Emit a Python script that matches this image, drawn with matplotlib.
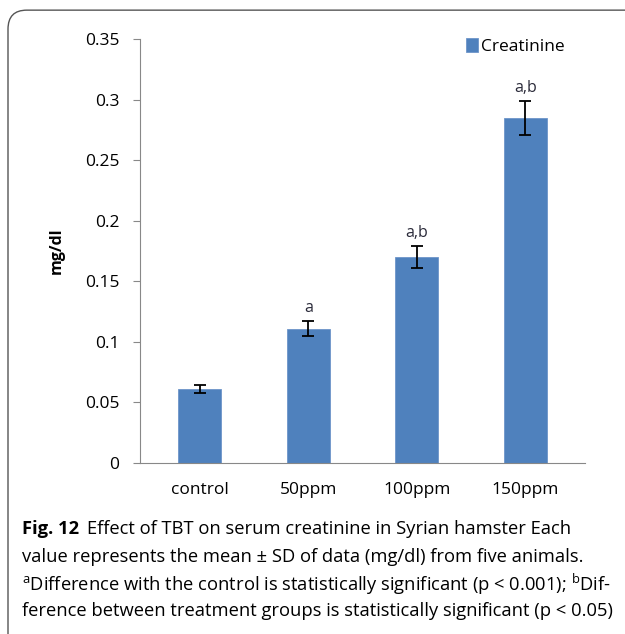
import numpy as np
import matplotlib
matplotlib.use("Agg")
import matplotlib.pyplot as plt
from matplotlib.patches import FancyBboxPatch

# data
groups = ["control", "50ppm", "100ppm", "150ppm"]
creatinine = [0.061, 0.111, 0.170, 0.285]
sd = [0.003, 0.006, 0.009, 0.014]
marks = ["", "a", "a,b", "a,b"]
yticks = [0, 0.05, 0.1, 0.15, 0.2, 0.25, 0.3, 0.35]
ytick_labels = ["0", "0.05", "0.1", "0.15", "0.2", "0.25", "0.3", "0.35"]

bar_color = "#4f81bd"
font = "Open Sans"
plt.rcParams["mathtext.fontset"] = "custom"
plt.rcParams["mathtext.rm"] = font

fig = plt.figure(figsize=(6.25, 6.34), dpi=100)

# rounded frame around the whole figure
frame = FancyBboxPatch((8 / 625, -0.05), 1.2, 1.034,
                       boxstyle="round,pad=0,rounding_size=0.03",
                       transform=fig.transFigure, fill=False,
                       edgecolor="#555555", linewidth=1.0, clip_on=False)
fig.patches.append(frame)

ax = fig.add_axes([140 / 625, 171 / 634, 445 / 625, 424 / 634])
x = np.arange(len(groups))
ax.bar(x, creatinine, width=0.4, color=bar_color, edgecolor="#6d95c9",
       linewidth=0.6, label="Creatinine", zorder=2)
ax.errorbar(x, creatinine, yerr=sd, fmt="none", ecolor="black",
            elinewidth=1.3, capsize=4, capthick=1.3, zorder=3)
for xi, v, e, m in zip(x, creatinine, sd, marks):
    if m:
        ax.text(xi, v + e + 0.004, m, ha="center", va="bottom",
                fontsize=11.5, color="#2b2b3a", family=font)

ax.set_xlim(-0.55, 3.55)
ax.set_ylim(0, 0.35)
ax.set_yticks(yticks)
ax.set_yticklabels(ytick_labels, fontsize=12.5, family=font)
ax.set_xticks(x)
ax.set_xticklabels(groups, fontsize=12.5, family=font)
ax.tick_params(axis="x", length=0, pad=14)
ax.tick_params(axis="y", length=5, color="#888888", pad=10)
for s in ["top", "right"]:
    ax.spines[s].set_visible(False)
for s in ["left", "bottom"]:
    ax.spines[s].set_color("#888888")
ax.set_ylabel("mg/dl", fontsize=11.5, fontweight="bold", family=font, labelpad=14)

leg = ax.legend(loc="upper right", bbox_to_anchor=(0.99, 1.04), frameon=False,
                prop={"family": font, "size": 12.5}, handlelength=0.7,
                handleheight=0.9, handletextpad=0.2)

# caption
cap_x = 22 / 625
fs = 13.2
fig.canvas.draw()
r = fig.canvas.get_renderer()
t0 = fig.text(cap_x, 1 - 529 / 634, "Fig. 12", fontsize=fs, family=font,
              fontweight="bold", va="center")
bb = t0.get_window_extent(renderer=r)
fig.text((bb.x1 + 8) / 625, 1 - 529 / 634, "Effect of TBT on serum creatinine in Syrian hamster Each",
         fontsize=fs, family=font, va="center")
fig.text(cap_x, 1 - 557 / 634, "value represents the mean \u00b1 SD of data (mg/dl) from five animals.",
         fontsize=fs, family=font, va="center")
fig.text(cap_x, 1 - 584 / 634, r"$^{\rm a}$Difference with the control is statistically significant (p < 0.001); $^{\rm b}$Dif-",
         fontsize=fs, family=font, va="center")
fig.text(cap_x, 1 - 611 / 634, "ference between treatment groups is statistically significant (p < 0.05)",
         fontsize=fs, family=font, va="center")

fig.savefig("out.png", dpi=100)
